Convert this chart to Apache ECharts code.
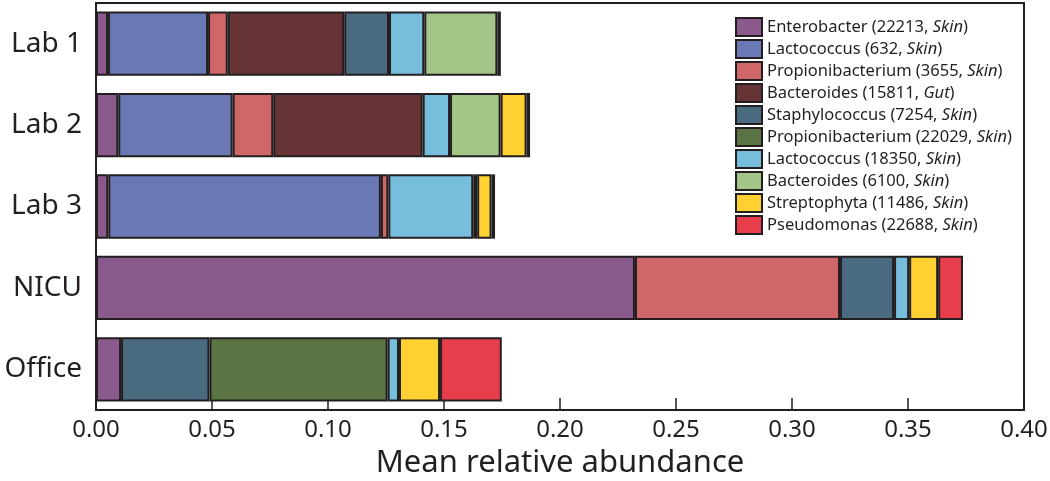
<!DOCTYPE html>
<html>
<head>
<meta charset="utf-8">
<script src="https://cdn.jsdelivr.net/npm/echarts@6/dist/echarts.min.js"></script>
<style>html,body{margin:0;padding:0;background:#fff;}#c{width:1050px;height:481px;}</style>
</head>
<body>
<div id="c"></div>
<script>
var categories = ['Lab 1', 'Lab 2', 'Lab 3', 'NICU', 'Office'];
var taxa = ['Enterobacter', 'Lactococcus', 'Propionibacterium', 'Bacteroides', 'Staphylococcus', 'Propionibacterium', 'Lactococcus', 'Bacteroides', 'Streptophyta', 'Pseudomonas'];
var otuIds = ['22213', '632', '3655', '15811', '7254', '22029', '18350', '6100', '11486', '22688'];
var sites = ['Skin', 'Skin', 'Skin', 'Gut', 'Skin', 'Skin', 'Skin', 'Skin', 'Skin', 'Skin'];
var colors = ['#8a5a8c', '#6b78b6', '#cf6769', '#673435', '#4a6a80', '#5b7444', '#77bedd', '#a3c688', '#fed032', '#e83e4c'];
var xTicks = [0, 0.05, 0.10, 0.15, 0.20, 0.25, 0.30, 0.35, 0.40];

var enterobacter22213 = [0.0052, 0.0096, 0.0053, 0.2323, 0.0108];
var lactococcus632 = [0.0431, 0.0493, 0.1175, null, null];
var propionibacterium3655 = [0.0085, 0.0175, 0.0032, 0.0884, null];
var bacteroides15811 = [0.0502, 0.0644, null, null, null];
var staphylococcus7254 = [0.0193, null, null, 0.0233, 0.0381];
var propionibacterium22029 = [null, null, null, null, 0.0768];
var lactococcus18350 = [0.0152, 0.0118, 0.0366, 0.0065, 0.0049];
var bacteroides6100 = [0.0315, 0.0218, 0.0017, null, null];
var streptophyta11486 = [0.0015, 0.0112, 0.0062, 0.0125, 0.0177];
var pseudomonas22688 = [null, 0.0015, 0.0015, 0.0107, 0.0266];

var seriesValues = [enterobacter22213, lactococcus632, propionibacterium3655, bacteroides15811, staphylococcus7254, propionibacterium22029, lactococcus18350, bacteroides6100, streptophyta11486, pseudomonas22688];

var FONT = 'Noto Sans';
var INK = '#231f20';
var names = taxa.map(function (t, i) { return t + ' (' + otuIds[i] + ', ' + sites[i] + ')'; });

var series = seriesValues.map(function (vals, i) {
  return {
    name: names[i],
    type: 'bar',
    stack: 'total',
    barWidth: '79%',
    data: vals,
    itemStyle: { color: colors[i], borderColor: INK, borderWidth: 2 },
    emphasis: { disabled: true }
  };
});

var LEG_FS = 16.5;
var chart = echarts.init(document.getElementById('c'), null, { renderer: 'canvas' });
chart.setOption({
  animation: false,
  backgroundColor: '#fff',
  grid: { left: 96, right: 26, top: 3, bottom: 71, show: true, borderColor: INK, borderWidth: 2, backgroundColor: 'transparent', containLabel: false, outerBoundsMode: 'none' },
  legend: {
    orient: 'vertical',
    left: 730,
    top: 12,
    icon: 'rect',
    itemWidth: 26,
    itemHeight: 18,
    itemGap: 2,
    data: names,
    textStyle: { fontFamily: FONT, fontSize: LEG_FS, color: INK, lineHeight: 18,
      rich: { n: { fontFamily: FONT, fontSize: LEG_FS, color: INK, lineHeight: 18 }, i: { fontFamily: FONT, fontSize: LEG_FS, fontStyle: 'italic', color: INK, lineHeight: 18 } } },
    formatter: function (name) {
      var idx = names.indexOf(name);
      return '{n|' + taxa[idx] + ' (' + otuIds[idx] + ', }{i|' + sites[idx] + '}{n|)}';
    }
  },
  xAxis: {
    type: 'value',
    min: xTicks[0],
    max: xTicks[xTicks.length - 1],
    interval: 0.05,
    name: 'Mean relative abundance',
    nameLocation: 'middle',
    nameGap: 38,
    nameTextStyle: { fontFamily: FONT, fontSize: 31, color: INK },
    axisLine: { show: true, lineStyle: { color: INK, width: 2 } },
    axisTick: { show: true, inside: true, length: 12, lineStyle: { color: INK, width: 1.5 } },
    splitLine: { show: false },
    axisLabel: { fontFamily: FONT, fontSize: 24, color: INK, margin: 8, formatter: function (v) { return v.toFixed(2); } }
  },
  yAxis: {
    type: 'category',
    data: categories,
    inverse: true,
    axisLine: { show: true, lineStyle: { color: INK, width: 2 } },
    axisTick: { show: false },
    axisLabel: { fontFamily: FONT, fontSize: 28, color: INK, margin: 14 }
  },
  series: series
});
</script>
</body>
</html>
